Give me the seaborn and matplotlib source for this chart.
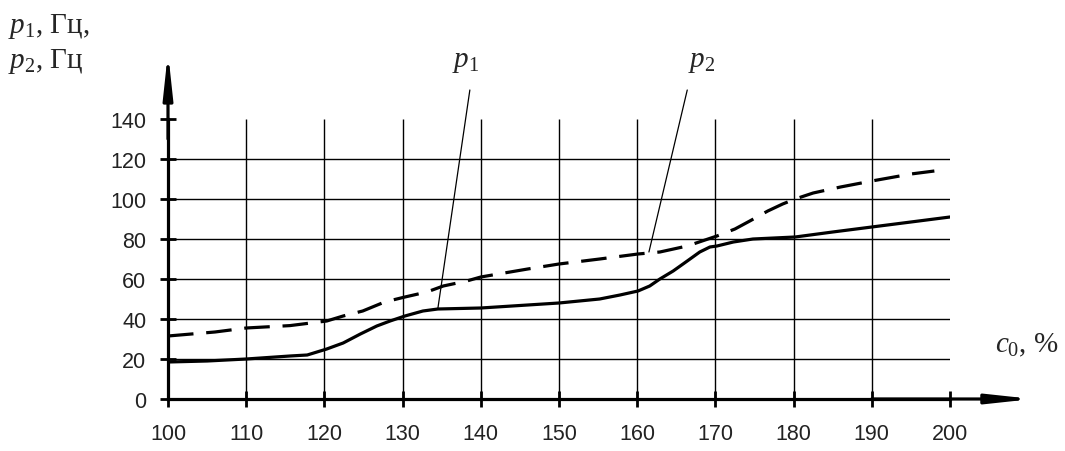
import numpy as np
import pandas as pd
import seaborn as sns
import matplotlib
matplotlib.use("Agg")
import matplotlib.pyplot as plt

# p1 (solid) and p2 (dashed)
c0_p1 = [100, 105, 110, 115.6, 117.8, 120.3, 122.4, 124.6, 126.7, 128.4, 130.3, 132.6,
         134.5, 140, 146, 150, 155.2, 157.8, 160.1, 161.6, 162.9, 164.6, 166.4, 168,
         169.3, 170.2, 172.3, 174.8, 180.2, 185, 190, 195, 200]
p1 = [18.5, 19, 20, 21.5, 22, 25, 28, 32.5, 36.5, 39, 41.5, 44,
      45, 45.5, 47, 48, 50, 52, 54, 56.5, 60, 64, 69, 73.5,
      76, 76.5, 78.5, 80, 81, 83.5, 86, 88.5, 91]

c0_p2 = [100, 106, 110, 115.6, 120.3, 122.4, 124.9, 127.7, 130.3, 133.1, 135.2, 138.2,
         140, 146, 150, 155.2, 160.1, 162.9, 166.4, 170.2, 172.5, 174.4, 176.7, 178.6,
         180.2, 182.5, 186, 190, 195, 198]
p2 = [31.5, 33.5, 35.5, 36.7, 39, 41.5, 44, 48.5, 51, 53.5, 56.5, 59,
      61, 65, 67.5, 70, 72.5, 73.5, 76.5, 81.5, 85, 89, 94, 97.5,
      100, 103, 106, 109, 112.5, 114]

x_ticks = list(range(100, 201, 10))
y_ticks = list(range(0, 141, 20))

df1 = pd.DataFrame({"c0": c0_p1, "p": p1})
df2 = pd.DataFrame({"c0": c0_p2, "p": p2})

sns.set_style("white")
plt.rcParams["font.family"] = ["Liberation Sans", "DejaVu Sans"]
plt.rcParams["mathtext.fontset"] = "custom"
plt.rcParams["mathtext.it"] = "Liberation Serif:italic"
plt.rcParams["mathtext.rm"] = "Liberation Serif"

fig = plt.figure(figsize=(10.65, 4.52), dpi=100)
ax = fig.add_axes([168 / 1065, 52 / 452, 782 / 1065, 280 / 452])
ax.set_xlim(100, 200)
ax.set_ylim(0, 140)

# grid: horizontal lines 20..120, vertical lines 110..190
ax.hlines(y_ticks[1:-1], 100, 200, color="black", lw=1.0, zorder=1)
ax.vlines(x_ticks[1:-1], 0, 140, color="black", lw=1.0, zorder=1)

sns.lineplot(data=df1, x="c0", y="p", ax=ax, color="black", lw=2.3, zorder=3)
sns.lineplot(data=df2, x="c0", y="p", ax=ax, color="black", lw=2.3, zorder=3,
             linestyle=(0, (8, 4)))

# axes with arrows
for s in ["top", "right"]:
    ax.spines[s].set_visible(False)
for s in ["left", "bottom"]:
    ax.spines[s].set_linewidth(2.3)
    ax.spines[s].set_color("black")
arrow = dict(arrowstyle="-|>,head_length=2.6,head_width=0.28", color="black", lw=2.3,
             shrinkA=0, shrinkB=0)
ax.annotate("", xy=(100, 173.5), xytext=(100, 130), arrowprops=arrow, annotation_clip=False)
ax.annotate("", xy=(210.6, 0), xytext=(190, 0), arrowprops=arrow, annotation_clip=False)

ax.set_xticks(x_ticks)
ax.set_yticks(y_ticks)
ax.tick_params(bottom=True, left=True, direction="inout", length=11, width=2,
               colors="black", labelsize=15.5, labelcolor="#222222")
ax.tick_params(axis="y", pad=10)
ax.tick_params(axis="x", pad=12)
ax.set_xlabel("")
ax.set_ylabel("")

# leader lines to curve labels
ax.plot([134.5, 138.6], [45, 154.5], color="black", lw=0.9, clip_on=False, zorder=4)
ax.plot([161.5, 166.4], [73.5, 154.5], color="black", lw=0.9, clip_on=False, zorder=4)

serif = ["Liberation Serif", "DejaVu Serif"]
ax.text(138.1, 166.5, r"$p_1$", fontsize=21, ha="center", va="baseline", family=serif)
ax.text(168.3, 166.5, r"$p_2$", fontsize=21, ha="center", va="baseline", family=serif)
ax.text(79.5, 183.5, r"$p_1$, Гц,", fontsize=21, ha="left", va="baseline", family=serif)
ax.text(79.5, 166, r"$p_2$, Гц", fontsize=21, ha="left", va="baseline", family=serif)
ax.text(209.8, 27.5, r"$c_0$, %", fontsize=21, ha="center", va="center", family=serif)

fig.savefig("out.png", dpi=100)
